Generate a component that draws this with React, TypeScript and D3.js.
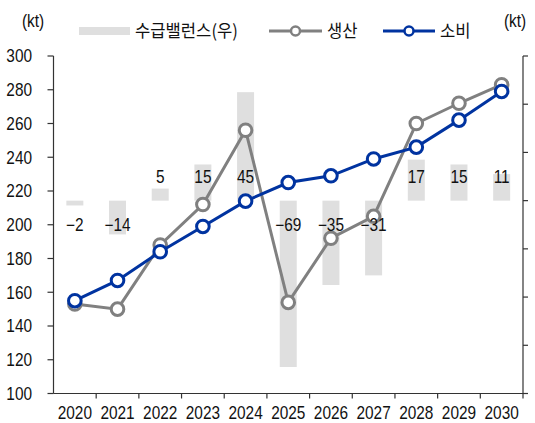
import React from 'react';
import * as d3 from 'd3';

const years = ['2020', '2021', '2022', '2023', '2024', '2025', '2026', '2027', '2028', '2029', '2030'];
const balance = [-2, -14, 5, 15, 45, -69, -35, -31, 17, 15, 11];
const production = [153, 150, 188, 212, 256, 154, 192, 205, 260, 272, 283];
const consumption = [155, 167, 184, 199, 214, 225, 229, 239, 246, 262, 279];
const leftTicks = [100, 120, 140, 160, 180, 200, 220, 240, 260, 280, 300];
const rightTicks = [-80, -60, -40, -20, 0, 20, 40, 60];

const W = 535;
const H = 423;
const margin = {top: 56, right: 12, bottom: 29.5, left: 53.5};
const FONT = '"Liberation Sans", Arial, sans-serif';
const KFONT = '"Noto Sans CJK KR", sans-serif';
const GRAY = '#808080';
const NAVY = '#0033a0';
const BAR = '#dfdfdf';

// narrow text: Liberation Sans squeezed horizontally
function T(props: {x: number, y: number, anchor?: string, size?: number, font?: string, sx?: number, children: any}) {
    const {x, y, anchor = 'start', size = 17.5, font = FONT, sx = 0.88, children} = props;
    return (
        <text transform={`translate(${x},${y}) scale(${sx},1)`} dy="0.36em" textAnchor={anchor}
              fontSize={size} fontFamily={font} fill="#111">{children}</text>
    );
}

export default function App() {
    const x = d3.scaleBand()
        .domain(years)
        .range([margin.left, W - margin.right])
        .paddingInner(0)
        .paddingOuter(0);
    const y = d3.scaleLinear().domain([100, 300]).range([H - margin.bottom, margin.top]);
    const yR = d3.scaleLinear().domain([-80, 60]).range([H - margin.bottom, margin.top]);

    const cx = (yr: string) => (x(yr) as number) + x.bandwidth() / 2;
    const barW = 17;

    const line = d3.line<number>()
        .x((_, i) => cx(years[i]))
        .y((d) => y(d));

    const plotLeft = margin.left;
    const plotRight = W - margin.right;
    const plotBottom = H - margin.bottom;

    const series = [
        {name: '생산', data: production, color: GRAY},
        {name: '소비', data: consumption, color: NAVY}
    ];

    return (
        <svg width={W} height={H} style={{position: 'absolute', left: 0, top: 0, background: '#fff'}}>
            {/* balance bars (right axis) */}
            {balance.map((v, i) => (
                <rect key={'b' + i}
                      x={cx(years[i]) - barW / 2}
                      y={Math.min(yR(v), yR(0))}
                      width={barW}
                      height={Math.abs(yR(v) - yR(0))}
                      fill={BAR}/>
            ))}

            {/* lines */}
            {series.map((s) => (
                <g key={s.name}>
                    <path d={line(s.data) as string} fill="none" stroke={s.color} strokeWidth={3}/>
                    {s.data.map((v, i) => (
                        <circle key={i} cx={cx(years[i])} cy={y(v)} r={6.3}
                                fill="#fff" stroke={s.color} strokeWidth={3}/>
                    ))}
                </g>
            ))}

            {/* balance labels */}
            {balance.map((v, i) => (
                <T key={'l' + i} x={cx(years[i])} y={yR(v >= 0 ? 10 : -10)} anchor="middle">
                    {v < 0 ? '\u2212' + Math.abs(v) : String(v)}
                </T>
            ))}

            {/* left axis */}
            <line x1={plotLeft} x2={plotLeft} y1={margin.top} y2={plotBottom} stroke="#333" strokeWidth={1.2}/>
            {leftTicks.map((t) => (
                <g key={'lt' + t}>
                    <line x1={plotLeft - 6} x2={plotLeft} y1={y(t)} y2={y(t)} stroke="#333" strokeWidth={1.2}/>
                    <T x={plotLeft - 21.5} y={y(t)} anchor="end">{t}</T>
                </g>
            ))}

            {/* right axis, no labels */}
            <line x1={plotRight} x2={plotRight} y1={margin.top} y2={plotBottom} stroke="#333" strokeWidth={1.2}/>
            {rightTicks.map((t) => (
                <line key={'rt' + t} x1={plotRight} x2={plotRight + 5} y1={yR(t)} y2={yR(t)} stroke="#333" strokeWidth={1.2}/>
            ))}

            {/* x axis */}
            <line x1={plotLeft} x2={plotRight} y1={plotBottom} y2={plotBottom} stroke="#333" strokeWidth={1.2}/>
            {years.map((yr) => (
                <g key={'x' + yr}>
                    <line x1={(x(yr) as number) + x.bandwidth()} x2={(x(yr) as number) + x.bandwidth()}
                          y1={plotBottom} y2={plotBottom + 5} stroke="#333" strokeWidth={1.2}/>
                    <T x={cx(yr)} y={plotBottom + 19} anchor="middle">{yr}</T>
                </g>
            ))}

            {/* units */}
            <T x={33} y={21} anchor="middle">(kt)</T>
            <T x={515} y={21} anchor="middle">(kt)</T>

            {/* legend */}
            <g>
                <rect x={79} y={27} width={51} height={8} fill={BAR}/>
                <T x={135} y={31} size={17.5} font={KFONT} sx={0.95}>수급밸런스(우)</T>
                <line x1={269} x2={322} y1={31} y2={31} stroke={GRAY} strokeWidth={3}/>
                <circle cx={295.5} cy={31} r={4.5} fill="#fff" stroke={GRAY} strokeWidth={2.5}/>
                <T x={327} y={31} size={17.5} font={KFONT} sx={0.95}>생산</T>
                <line x1={383} x2={435} y1={31} y2={31} stroke={NAVY} strokeWidth={3}/>
                <circle cx={409} cy={31} r={4.5} fill="#fff" stroke={NAVY} strokeWidth={2.5}/>
                <T x={440} y={31} size={17.5} font={KFONT} sx={0.95}>소비</T>
            </g>
        </svg>
    );
}
